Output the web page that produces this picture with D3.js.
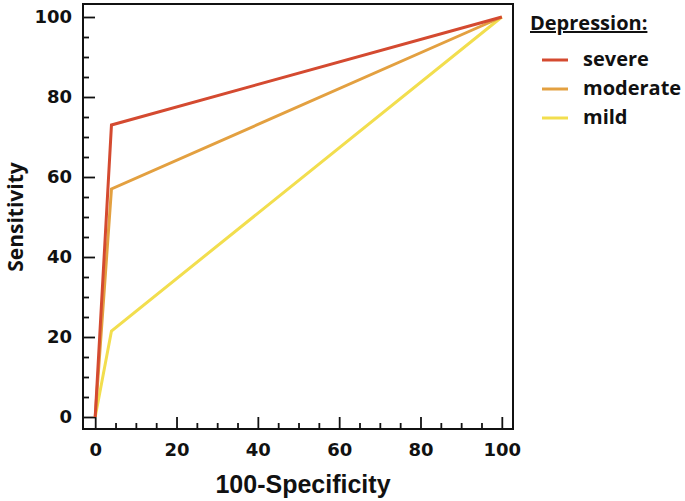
<!DOCTYPE html>
<html><head><meta charset="utf-8">
<script src="https://cdn.jsdelivr.net/npm/d3@7"></script>
<style>body{margin:0;background:#fff}svg{display:block}</style>
</head><body>
<svg id="c" width="685" height="501"></svg>
<script>
const seriesNames = ["severe", "moderate", "mild"];
const seriesColors = ["#d44a30", "#e3a040", "#f2de4e"];
const xValues = [0, 4, 100];
const severe = [0, 73, 100];
const moderate = [0, 57, 100];
const mild = [0, 21.5, 100];
const majorTicks = [0, 20, 40, 60, 80, 100];
const minorTicks = d3.range(0, 101, 5).filter(v => v % 20 !== 0);
const xTitle = "100-Specificity";
const yTitle = "Sensitivity";
const legendTitle = "Depression:";

const svg = d3.select("#c");
const L = 83, R = 513, T = 4, B = 429;
const x = d3.scaleLinear().domain([-3, 102.75]).range([L, R]);
const y = d3.scaleLinear().domain([-3, 103.25]).range([B, T]);

const tickFont = "'DejaVu Sans', sans-serif";

// minor ticks
svg.append("g").attr("transform", `translate(0,${B})`)
  .call(d3.axisBottom(x).tickValues(minorTicks).tickSize(-6).tickFormat(""))
  .call(g => g.select(".domain").remove());
svg.append("g").attr("transform", `translate(${L},0)`)
  .call(d3.axisLeft(y).tickValues(minorTicks).tickSize(-6).tickFormat(""))
  .call(g => g.select(".domain").remove());

// major ticks
const xa = svg.append("g").attr("transform", `translate(0,${B})`)
  .call(d3.axisBottom(x).tickValues(majorTicks).tickSizeInner(-12).tickSizeOuter(0).tickPadding(14));
xa.select(".domain").remove();
xa.selectAll("text").attr("font-family", tickFont).attr("font-weight", "bold").attr("font-size", 18).attr("fill", "#111");
const ya = svg.append("g").attr("transform", `translate(${L},0)`)
  .call(d3.axisLeft(y).tickValues(majorTicks).tickSizeInner(-12).tickSizeOuter(0).tickPadding(11));
ya.select(".domain").remove();
ya.selectAll("text").attr("font-family", tickFont).attr("font-weight", "bold").attr("font-size", 18).attr("fill", "#111");
svg.selectAll(".tick line").attr("stroke", "#111").attr("stroke-width", 1.8);

// frame
svg.append("rect").attr("x", L).attr("y", T).attr("width", R - L).attr("height", B - T)
  .attr("fill", "none").attr("stroke", "#111").attr("stroke-width", 2);

// lines
const data = [severe, moderate, mild];
const line = d3.line().x((d, i) => x(xValues[i])).y(d => y(d));
[2, 1, 0].forEach(k => {
  svg.append("path").datum(data[k]).attr("d", line)
    .attr("fill", "none").attr("stroke", seriesColors[k]).attr("stroke-width", 3)
    .attr("stroke-linejoin", "miter");
});

// axis titles
svg.append("text").attr("x", 303).attr("y", 493).attr("text-anchor", "middle")
  .attr("font-family", "'Liberation Sans', Arial, sans-serif").attr("font-weight", "bold")
  .attr("font-size", 25).attr("fill", "#111").text(xTitle);
svg.append("text").attr("transform", "translate(23,217) rotate(-90)").attr("text-anchor", "middle")
  .attr("font-family", "'Open Sans', sans-serif").attr("font-weight", "bold")
  .attr("font-size", 21).attr("fill", "#111").text(yTitle);

// legend
svg.append("text").attr("x", 530).attr("y", 30)
  .attr("font-family", "'Open Sans', sans-serif").attr("font-weight", "bold")
  .attr("font-size", 20).attr("fill", "#111").attr("text-decoration", "underline").text(legendTitle);
const ly = [60, 89, 118];
seriesNames.forEach((n, i) => {
  svg.append("line").attr("x1", 542).attr("x2", 568).attr("y1", ly[i]).attr("y2", ly[i])
    .attr("stroke", seriesColors[i]).attr("stroke-width", 3);
  svg.append("text").attr("x", 583).attr("y", ly[i] + 6)
    .attr("font-family", "'Open Sans', sans-serif").attr("font-weight", "bold")
    .attr("font-size", 20).attr("fill", "#111").text(n);
});
</script>
</body></html>
